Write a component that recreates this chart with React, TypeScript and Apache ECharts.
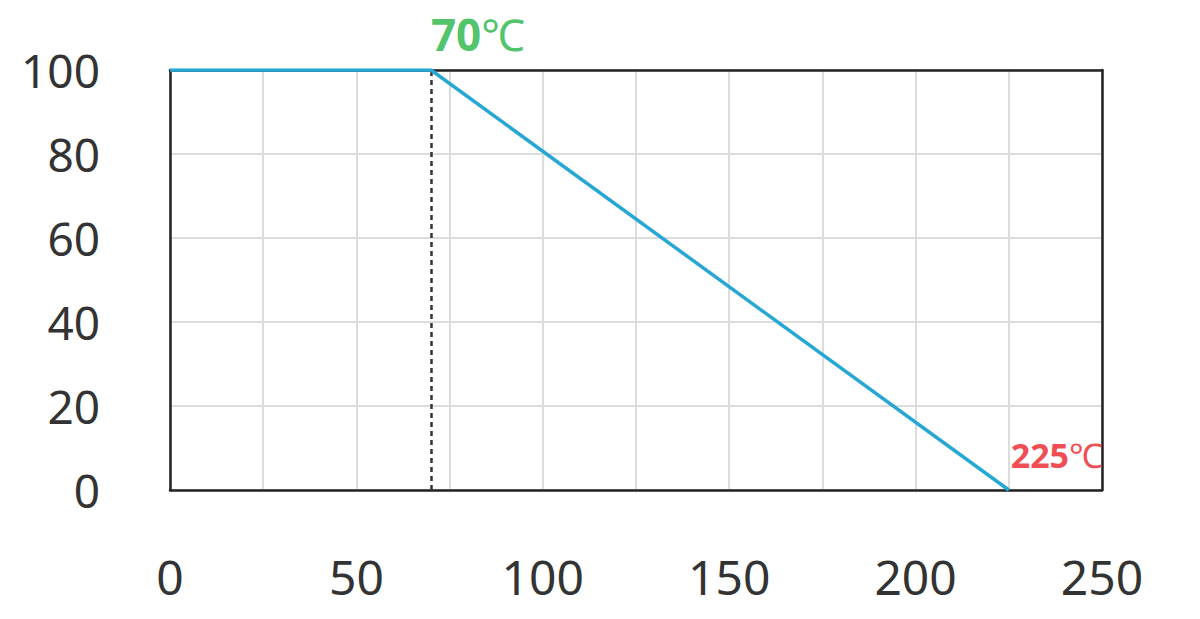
import React, { useEffect, useRef } from "react";
import * as echarts from "echarts";

const curveX = [0, 70, 225];
const curveY = [100, 100, 0];
const xTicks = [0, 50, 100, 150, 200, 250];
const yTicks = [0, 20, 40, 60, 80, 100];
const markers = [
  { x: 70, y: 100, value: "70", unit: "℃", color: "#22b443", size: 44 },
  { x: 225, y: 0, value: "225", unit: "℃", color: "#ee1c25", size: 34 },
];

export default function App() {
  const ref = useRef<HTMLDivElement>(null);
  useEffect(() => {
    if (!ref.current) return;
    const chart = echarts.init(ref.current, undefined, { renderer: "svg" });
    const font = "'Noto Sans', 'Open Sans', sans-serif";
    const frame = { show: true, onZero: false, lineStyle: { color: "#222", width: 2.5 } };
    chart.setOption({
      animation: false,
      grid: {
        left: 170,
        right: 98,
        top: 70,
        bottom: 129,
      },
      xAxis: [
        {
          type: "value",
          min: 0,
          max: 250,
          interval: 25,
          axisLine: frame,
          axisTick: { show: false },
          splitLine: { show: true, lineStyle: { color: "#dcdcdc", width: 2 } },
          axisLabel: {
            margin: 62,
            fontSize: 48,
            color: "#333",
            fontFamily: font,
            formatter: (v: number) => (xTicks.includes(v) ? String(v) : ""),
          },
          z: 3,
        },
        {
          type: "value",
          position: "top",
          min: 0,
          max: 250,
          interval: 25,
          axisLine: frame,
          axisTick: { show: false },
          splitLine: { show: false },
          axisLabel: { show: false },
          z: 3,
        },
      ],
      yAxis: [
        {
          type: "value",
          min: 0,
          max: 100,
          interval: 20,
          axisLine: frame,
          axisTick: { show: false },
          splitLine: { show: true, lineStyle: { color: "#dcdcdc", width: 2 } },
          axisLabel: {
            margin: 70,
            fontSize: 46,
            color: "#333",
            fontFamily: font,
            formatter: (v: number) => (yTicks.includes(v) ? String(v) : ""),
          },
          z: 3,
        },
        {
          type: "value",
          position: "right",
          min: 0,
          max: 100,
          interval: 20,
          axisLine: frame,
          axisTick: { show: false },
          splitLine: { show: false },
          axisLabel: { show: false },
          z: 3,
        },
      ],
      series: [
        {
          type: "line",
          data: curveX.map((x, i) => [x, curveY[i]]),
          showSymbol: false,
          symbol: "none",
          lineStyle: { color: "#27a8d4", width: 3.5 },
          z: 5,
          markLine: {
            silent: true,
            symbol: "none",
            label: { show: false },
            lineStyle: { color: "#333", type: [5, 4], width: 2.5 },
            data: [{ xAxis: 70 }],
          },
        },
        {
          type: "scatter",
          symbolSize: 0,
          z: 6,
          data: markers.map((m) => ({
            value: [m.x, m.y],
            label: {
              show: true,
              position: "top",
              distance: m.x === 70 ? 14 : 18,
              offset: m.x === 70 ? [47, 0] : [48, 0],
              formatter: `{v|${m.value}}{u|${m.unit}}`,
              rich: {
                v: { fontSize: m.size, fontWeight: "bold", color: m.color, fontFamily: font },
                u: { fontSize: m.size, color: m.color, fontFamily: font },
              },
            },
          })),
        },
      ],
    });
    return () => chart.dispose();
  }, []);
  return (
    <div
      ref={ref}
      style={{ position: "fixed", left: 0, top: 0, width: 1200, height: 619, background: "#fff" }}
    />
  );
}
